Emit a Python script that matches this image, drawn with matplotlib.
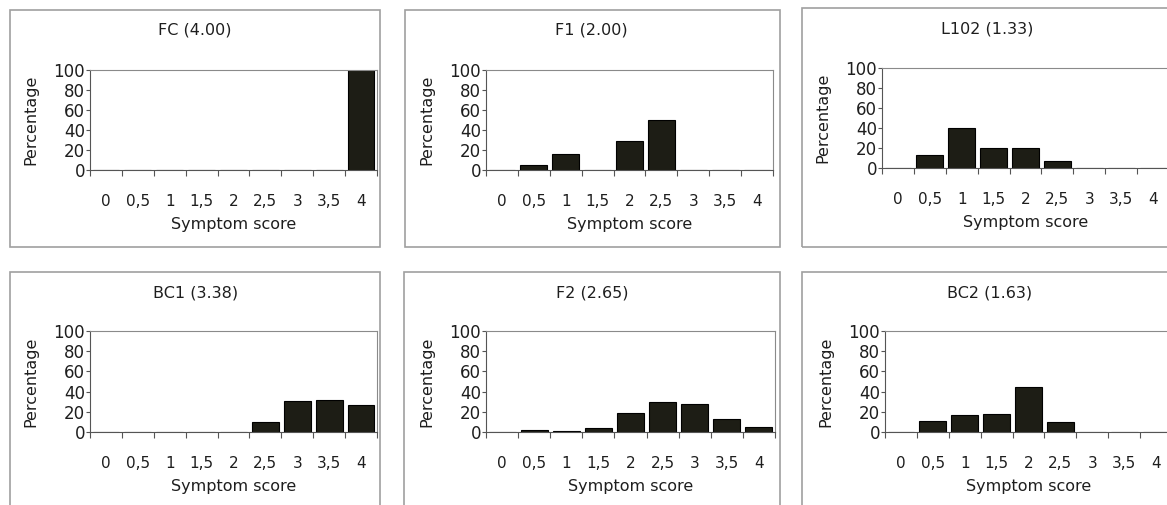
import numpy as np
import matplotlib
matplotlib.use("Agg")
import matplotlib.pyplot as plt
from matplotlib.patches import Rectangle

# Symptom score categories (x axis)
scores = ["0", "0,5", "1", "1,5", "2", "2,5", "3", "3,5", "4"]

# Percentage of plants per score
fc_pct = [0, 0, 0, 0, 0, 0, 0, 0, 100]
f1_pct = [0, 5, 16, 0, 29, 50, 0, 0, 0]
l102_pct = [0, 13, 40, 20, 20, 7, 0, 0, 0]
bc1_pct = [0, 0, 0, 0, 0, 10, 31, 32, 27]
f2_pct = [0, 1.5, 0.5, 4, 19, 30, 28, 13, 4.5]
bc2_pct = [0, 11, 16.5, 18, 45, 10, 0, 0, 0]

titles = ["FC (4.00)", "F1 (2.00)", "L102 (1.33)",
          "BC1 (3.38)", "F2 (2.65)", "BC2 (1.63)"]
series = [fc_pct, f1_pct, l102_pct, bc1_pct, f2_pct, bc2_pct]

W, H = 1167, 505
fig = plt.figure(figsize=(W / 100, H / 100), dpi=100)
plt.rcParams['font.size'] = 11
txt = "#1e1e1e"


def box(x0, y0, x1, y1):
    # pixel box (top-left origin) -> figure fraction rect
    return [x0 / W, 1 - y1 / H, (x1 - x0) / W, (y1 - y0) / H]


# plot areas and panel frames in pixels
plot_areas = [(90, 70, 377, 170), (486, 70, 773, 170), (882, 68, 1169, 168),
              (90, 331, 377, 432), (486, 331, 775, 432), (885, 331, 1172, 432)]
frames = [(10, 10, 380, 247), (405, 10, 780, 247), (802, 8, 1180, 247),
          (10, 272, 380, 520), (404, 272, 780, 520), (802, 272, 1180, 520)]
title_pos = [(195, 30), (591, 30), (987, 29), (196, 293), (592, 293), (990, 293)]

for (fx0, fy0, fx1, fy1) in frames:
    r = box(fx0, fy0, fx1, fy1)
    fig.patches.append(Rectangle((r[0], r[1]), r[2], r[3], transform=fig.transFigure,
                                 fill=False, edgecolor="#a0a0a0", linewidth=1.2))

idx = np.arange(len(scores))
for k in range(6):
    ax = fig.add_axes(box(*plot_areas[k]))
    ax.bar(idx, series[k], width=0.84, color="#1d1d15", edgecolor="black", linewidth=0.8)
    ax.set_xlim(-0.5, len(scores) - 0.5)
    ax.set_ylim(0, 100)
    ax.set_yticks(np.arange(0, 101, 20))
    ax.set_xticks(idx)
    ax.set_xticklabels(scores)
    ax.set_xticks(np.arange(-0.5, len(scores)), minor=True)
    ax.tick_params(axis="x", which="major", length=0, pad=17, colors=txt)
    ax.tick_params(axis="x", which="minor", length=4, width=0.8, color="#555555")
    ax.tick_params(axis="y", length=3, width=0.8, pad=0.5, color="#555555",
                   labelcolor=txt, labelsize=12)
    for s in ["top", "right"]:
        ax.spines[s].set_color("#8a8a8a")
    for s in ["left", "bottom"]:
        ax.spines[s].set_color("#555555")
    ax.set_xlabel("Symptom score", labelpad=6, color=txt, fontsize=11.5)
    ax.set_ylabel("Percentage", labelpad=11, color=txt, fontsize=11.5)
    tx, ty = title_pos[k]
    fig.text(tx / W, 1 - ty / H, titles[k], ha="center", va="center", color=txt, fontsize=11.5)

fig.savefig("out.png", dpi=100, facecolor="white")
